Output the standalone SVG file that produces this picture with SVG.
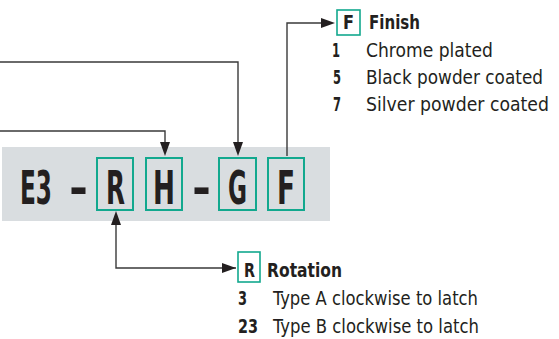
<svg xmlns="http://www.w3.org/2000/svg" width="559" height="339" viewBox="0 0 559 339">
<defs>
<style>
.t{font-family:"Liberation Sans Narrow","DejaVu Sans Condensed","Liberation Sans",sans-serif;fill:#231f20}
.b{font-weight:bold}
.big{font-size:46px;font-weight:bold}
.sm{font-size:19px}
.box{fill:none;stroke:#12a88e;stroke-width:2}
.lbox{fill:#fff;stroke:#12a88e;stroke-width:1.6}
.con{fill:none;stroke:#3a3a3a;stroke-width:1.4}
.head{fill:#231f20}
</style>
</defs>
<rect width="559" height="339" fill="#fff"/>
<g id="code">
<rect x="2" y="147" width="328" height="74" fill="#d9dde0"/>
<text class="t big" x="20" y="204"><tspan textLength="32" lengthAdjust="spacingAndGlyphs">E3</tspan><tspan x="69" textLength="19" lengthAdjust="spacingAndGlyphs">-</tspan></text>
<text class="t big" x="192" y="204" textLength="19" lengthAdjust="spacingAndGlyphs">-</text>
</g>
<g id="box-R">
<rect class="box" x="97" y="158" width="36" height="52"/>
<text class="t big" x="106" y="204" textLength="19" lengthAdjust="spacingAndGlyphs">R</text>
</g>
<g id="box-H">
<rect class="box" x="146" y="158" width="36" height="52"/>
<text class="t big" x="153" y="204" textLength="22" lengthAdjust="spacingAndGlyphs">H</text>
</g>
<g id="box-G">
<rect class="box" x="219" y="158" width="37" height="52"/>
<text class="t big" x="228" y="204" textLength="19" lengthAdjust="spacingAndGlyphs">G</text>
</g>
<g id="box-F">
<rect class="box" x="268" y="158" width="36" height="52"/>
<text class="t big" x="277" y="204" textLength="18" lengthAdjust="spacingAndGlyphs">F</text>
</g>
<g id="finish">
<rect class="lbox" x="337" y="10" width="23" height="25"/>
<text class="t b sm" x="343" y="29" textLength="11" lengthAdjust="spacingAndGlyphs">F</text>
<text class="t b sm" x="369" y="29" textLength="51" lengthAdjust="spacingAndGlyphs">Finish</text>
<text class="t b sm" x="332" y="57" textLength="8" lengthAdjust="spacingAndGlyphs">1</text>
<text class="t sm" x="366" y="57" textLength="127" lengthAdjust="spacingAndGlyphs">Chrome plated</text>
<text class="t b sm" x="333" y="84" textLength="8" lengthAdjust="spacingAndGlyphs">5</text>
<text class="t sm" x="366" y="84" textLength="177" lengthAdjust="spacingAndGlyphs">Black powder coated</text>
<text class="t b sm" x="333" y="111" textLength="8" lengthAdjust="spacingAndGlyphs">7</text>
<text class="t sm" x="366" y="111" textLength="183" lengthAdjust="spacingAndGlyphs">Silver powder coated</text>
</g>
<g id="rotation">
<rect class="lbox" x="238" y="252" width="22" height="30"/>
<text class="t b sm" x="244" y="277" textLength="11" lengthAdjust="spacingAndGlyphs">R</text>
<text class="t b sm" x="267" y="277" textLength="75" lengthAdjust="spacingAndGlyphs">Rotation</text>
<text class="t b sm" x="238" y="305" textLength="9" lengthAdjust="spacingAndGlyphs">3</text>
<text class="t sm" x="273" y="305" textLength="205" lengthAdjust="spacingAndGlyphs">Type A clockwise to latch</text>
<text class="t b sm" x="238" y="333" textLength="20" lengthAdjust="spacingAndGlyphs">23</text>
<text class="t sm" x="273" y="333" textLength="206" lengthAdjust="spacingAndGlyphs">Type B clockwise to latch</text>
</g>
<g id="connectors">
<path class="con" d="M0,62 H238 V143"/>
<polygon class="head" points="233,142 243,142 238,156"/>
<path class="con" d="M0,131 H165 V143"/>
<polygon class="head" points="160,142 170,142 165,156"/>
<path class="con" d="M287,156 V23 H322"/>
<polygon class="head" points="321,18 321,28 335,23"/>
<path class="con" d="M236,268 H116 V224"/>
<polygon class="head" points="111,225 121,225 116,211"/>
<polygon class="head" points="222,263 222,273 236,268"/>
</g>
</svg>
